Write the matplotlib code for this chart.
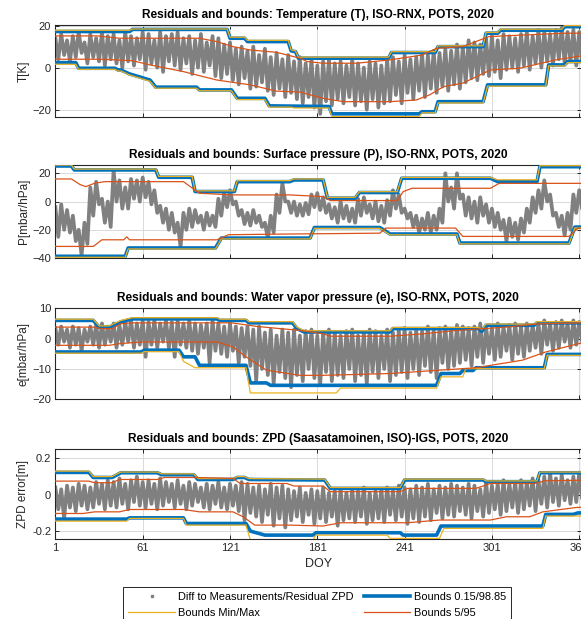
import matplotlib
matplotlib.use("Agg")
import matplotlib.pyplot as plt
from matplotlib.lines import Line2D
import numpy as np

plt.rcParams['font.family'] = ['Liberation Sans', 'DejaVu Sans']

# ---------------- data ----------------
# residual envelope samples: every 4 days, a high and a low reading
res_days = list(range(1, 366, 4))

# Panel 1: Temperature
t_hi = [14, 16, 13, 15, 17, 12, 16, 14, 17, 15,
        16, 13, 17, 15, 14, 17, 16, 13, 17, 15,
        16, 17, 14, 15, 13, 16, 12, 15, 14, 11,
        12, 9, 10, 8, 10, 6, 9, 5, 7, 4,
        6, 3, 5, 2, 4, 1, 3, 4, 2, 3,
        1, 4, 2, 0, 3, 2, 1, 4, 5, 3,
        6, 4, 5, 7, 6, 8, 7, 9, 8, 11,
        10, 13, 12, 11, 14, 15, 13, 16, 15, 14,
        16, 17, 15, 18, 17, 16, 18, 19, 17, 18,
        17, 16]
t_lo = [4, 6, 3, 5, 7, 2, 5, 3, 1, 4,
        2, 0, 3, 1, 4, -1, 2, 0, -2, 3,
        1, -1, 2, -3, 0, -2, 1, -4, -5, -3,
        -6, -8, -5, -10, -9, -7, -11, -13, -10, -14,
        -12, -15, -17, -14, -19, -22, -16, -18, -15, -17,
        -14, -18, -16, -20, -15, -19, -17, -16, -13, -17,
        -12, -15, -11, -14, -10, -12, -9, -11, -8, -10,
        -7, -5, -6, -3, -4, -2, -5, -1, 0, -2,
        1, -1, 2, 0, 3, 1, 4, 2, 3, 1,
        3, 5]
t_blue_up_d = [1, 52, 54, 119, 121, 131, 133, 161, 163, 166, 168, 230, 232, 262, 264, 295, 297, 305, 307, 349, 351, 366]
t_blue_up_v = [17.2, 17.2, 18.2, 18.2, 14, 14, 12.4, 12.4, 8, 7.6, 4.5, 4.5, 7.2, 7.2, 10, 10, 16.4, 16.4, 17.8, 17.8, 19.5, 19.5]
t_yel_up_v = [17.8, 17.8, 18.4, 18.4, 14.5, 14.5, 13, 13, 8.5, 8, 5, 5, 7.6, 7.6, 10.4, 10.4, 16.8, 16.8, 18.3, 18.3, 20, 20]
t_blue_lo_d = [1, 15, 17, 42, 44, 46, 52, 66, 70, 98, 100, 122, 126, 145, 148, 189, 191, 251, 253, 262, 264, 295, 298, 338, 340, 351, 353, 366]
t_blue_lo_v = [2.4, 2.4, -0.3, -0.3, -1.1, -1.1, -3, -5.9, -9.3, -9.3, -10.6, -10.6, -14.6, -14.6, -18.2, -18.5, -22, -22, -21, -21, -16.2, -16.2, -8.2, -8.2, 1.3, 1.3, 2.9, 2.9]
t_yel_lo_d = [1, 15, 17, 42, 44, 46, 52, 66, 70, 98, 100, 122, 126, 145, 148, 163, 165, 189, 191, 251, 253, 262, 264, 295, 298, 338, 340, 351, 353, 366]
t_yel_lo_v = [1.6, 1.6, -0.8, -0.8, -1.6, -1.6, -3.5, -6.5, -9.8, -9.8, -11, -11, -15.2, -15.2, -18.8, -18.8, -19.2, -19.2, -23.3, -23.3, -21.5, -21.5, -16.8, -16.8, -8.8, -8.8, 0.8, 0.8, 2.4, 2.4]
t_or_up_d = [1, 30, 45, 100, 112, 123, 135, 153, 169, 174, 185, 208, 231, 253, 263, 281, 299, 322, 352, 366]
t_or_up_v = [15.1, 15.1, 14, 14, 12.4, 10, 8.4, 7.3, 4.5, 2.9, 2.1, 2.1, 3.7, 6, 9.2, 10, 14.8, 15.5, 16.4, 16.4]
t_or_lo_d = [1, 32, 54, 66, 89, 112, 135, 153, 169, 185, 199, 231, 249, 258, 268, 281, 300, 320, 345, 366]
t_or_lo_v = [4, 4, 3.3, 1.3, -1.9, -5.9, -8.2, -11.2, -11.6, -14.6, -16.2, -16.2, -15.4, -13, -9, -7.4, -1.1, -0.3, 3.7, 6]

# Panel 2: Surface pressure
p_hi = [-4, -2, -6, -10, -20, -15, 10, 14, 2, 0,
        22, 15, 10, 16, 15, 17, 14, 8, -3, -5,
        -8, -15, -8, -5, -6, -10, -8, -10, 2, 6,
        8, 0, -6, -8, -6, -10, -15, -10, 5, 13,
        0, 0, -2, -1, 5, 6, 3, -2, -4, 0,
        -3, -5, 2, 3, -2, 0, -3, 1, 8, 5,
        -5, -8, -10, -12, -8, -10, -5, 20, 10, 20,
        5, 3, 0, 3, -2, -5, -8, -13, -12, -15,
        -12, -5, 3, 8, 15, 5, -8, -10, -8, 5,
        8, 2]
p_lo = [-25, -20, -22, -28, -38, -30, -10, -2, -15, -18,
        0, -5, -5, 2, 0, 3, -2, -8, -15, -20,
        -22, -32, -20, -18, -15, -20, -17, -18, -10, -4,
        -2, -10, -16, -17, -15, -18, -26, -22, -8, 0,
        -8, -10, -10, -9, -4, -6, -8, -12, -15, -12,
        -14, -15, -10, -8, -12, -14, -15, -10, -5, -8,
        -12, -18, -22, -20, -22, -20, -15, 0, -5, 2,
        -10, -12, -15, -10, -15, -18, -20, -28, -25, -27,
        -22, -15, -8, -5, 0, -10, -18, -24, -20, -8,
        -5, -8]
p_up_d = [1, 12, 14, 70, 72, 95, 97, 124, 126, 162, 165, 185, 188, 207, 210, 236, 239, 300, 305, 332, 334, 366]
p_blue_up_v = [25.2, 25.2, 22.4, 22.4, 17.2, 17.2, 7.1, 7.1, 14.1, 14.1, 15.3, 15.3, 2.4, 2.4, 6.4, 6.4, 16.5, 16.5, 14.1, 14.1, 24.7, 24.7]
p_yel_up_v = [25.9, 25.9, 23, 23, 17.8, 17.8, 7.6, 7.6, 14.8, 14.8, 16, 16, 3, 3, 7, 7, 17.1, 17.1, 15.4, 15.4, 25.4, 25.4]
p_lo_d = [1, 49, 51, 111, 115, 176, 179, 224, 231, 277, 279, 354, 358, 366]
p_blue_lo_v = [-38.8, -38.8, -32.9, -32.9, -25.9, -25.9, -18.4, -18.4, -23, -23, -29.4, -29.4, -18.1, -18.1]
p_yel_lo_v = [-39.5, -39.5, -33.6, -33.6, -26.5, -26.5, -19, -19, -23.6, -23.6, -30, -30, -18.7, -18.7]
p_or_up_d = [1, 12, 18, 22, 28, 35, 89, 100, 123, 162, 185, 190, 236, 240, 246, 300, 306, 366]
p_or_up_v = [16, 16, 12, 10.6, 13, 14.1, 14.1, 5.9, 4.7, 4.7, 3.5, 0.7, 0.7, 7, 9.4, 9.4, 12.9, 12.9]
p_or_lo_d = [1, 27, 33, 48, 50, 52, 112, 120, 162, 224, 228, 276, 281, 354, 360, 366]
p_or_lo_v = [-31.8, -31.8, -27.1, -27.1, -25, -27.1, -27.1, -23.5, -23, -22.4, -18.8, -18.8, -24.7, -24.7, -19, -18.5]

# Panel 3: Water vapour pressure
e_hi = [3.5, 4, 3, 4, 3.5, 3, 4, 4.5, 5, 4,
        5, 4.5, 5.5, 6, 5, 6, 5.5, 6, 5, 6,
        5.5, 6, 5, 6, 5, 4.5, 5, 6, 5, 4,
        5, 4, 3.5, 4, 3, 4, 2, 3, 1, 3,
        2, 3, 1, 2.5, 3, 1, 2, 3, 2, 1,
        2.5, 3, 1, 2, 3, 2.5, 1, 3, 2, 3,
        3.5, 2, 3, 2.5, 4, 3, 3.5, 4, 3, 4.5,
        4, 3.5, 4, 5, 4, 3.5, 5, 4, 4.5, 5,
        4, 5, 4.5, 5, 6, 5, 5.5, 6, 5, 6,
        5.5, 5]
e_lo = [-2, -1, -3, -2, -4, -1, -2, -3, -2, -1,
        -3, -2, -1, -3, -2, -6, -2, -3, -1, -3,
        -6, -2, -3, -4, -5, -3, -8, -4, -5, -6,
        -4, -8, -6, -9, -14, -10, -12, -15, -11, -13,
        -16, -12, -14, -10, -13, -15, -11, -14, -12, -13,
        -10, -14, -12, -15, -11, -13, -10, -14, -12, -11,
        -13, -10, -12, -9, -11, -13, -8, -10, -9, -8,
        -7, -9, -6, -8, -5, -7, -6, -4, -7, -5,
        -6, -4, -3, -5, -2, -4, -3, -1, -3, -2,
        -1, -2]
e_up_d = [1, 27, 31, 38, 46, 54, 112, 114, 132, 134, 164, 167, 172, 231, 233, 292, 294, 297, 330, 332, 366]
e_blue_up_v = [6, 6, 3.8, 3.8, 5.5, 6.5, 6.5, 6, 6, 5.2, 5.2, 3.3, 2.2, 2.2, 3.3, 3.3, 2.4, 4.4, 4.4, 5.2, 5.2]
e_yel_up_v = [6.4, 6.4, 4.2, 4.2, 6, 6.9, 6.9, 6.4, 6.4, 5.6, 5.6, 3.8, 2.6, 2.6, 3.7, 3.7, 3, 4.8, 4.8, 5.6, 5.6]
e_blue_lo_d = [1, 60, 62, 86, 89, 97, 100, 132, 135, 146, 149, 263, 266, 279, 281, 288, 290, 337, 339, 366]
e_blue_lo_v = [-4.4, -4.4, -3.8, -3.8, -6, -6, -8.8, -8.8, -14.6, -14.6, -15.4, -15.4, -11.5, -11.5, -10.5, -10.5, -9.6, -9.6, -5.2, -5.2]
e_yel_lo_d = [1, 60, 62, 86, 89, 97, 132, 135, 194, 197, 263, 266, 281, 283, 337, 339, 366]
e_yel_lo_v = [-4.8, -4.8, -4.3, -4.3, -7.5, -9.6, -9.6, -17.9, -17.9, -16.3, -16.3, -12.6, -12.6, -9.9, -9.9, -5.5, -5.5]
e_or_up_d = [1, 27, 33, 40, 46, 54, 122, 140, 169, 185, 190, 231, 254, 277, 311, 334, 366]
e_or_up_v = [3.8, 3.8, 3.3, 3.3, 4.9, 5.2, 5.2, 4, 2.7, 1.6, 0.8, 0.8, 1.6, 2.7, 3.8, 4.9, 5.2]
e_or_lo_d = [1, 38, 46, 61, 112, 123, 132, 146, 169, 185, 231, 265, 290, 322, 338, 361, 366]
e_or_lo_v = [-2.2, -2.2, -1.6, -1.1, -1.1, -2.7, -6, -10.4, -12.1, -12.1, -11.5, -10.4, -9.6, -7.1, -4.4, -1.6, -1.6]

# Panel 4: ZPD
z_hi = [0.04, 0.03, 0.05, 0.04, 0.06, 0.05, 0.04, 0.07, 0.06, 0.08,
        0.07, 0.09, 0.06, 0.08, 0.1, 0.07, 0.08, 0.06, 0.09, 0.07,
        0.06, 0.08, 0.05, 0.07, 0.06, 0.04, 0.06, 0.05, 0.07, 0.04,
        0.06, 0.05, 0.07, 0.06, 0.04, 0.05, 0.03, 0.06, 0.04, 0.05,
        0.03, 0.02, 0.04, 0.01, 0.03, 0.02, 0.04, 0.01, 0.02, 0.03,
        0.01, 0.03, 0.02, 0.04, 0.01, 0.02, 0.03, 0.04, 0.02, 0.05,
        0.04, 0.03, 0.05, 0.04, 0.06, 0.03, 0.05, 0.04, 0.06, 0.05,
        0.04, 0.06, 0.05, 0.03, 0.07, 0.05, 0.06, 0.08, 0.06, 0.07,
        0.08, 0.07, 0.09, 0.08, 0.1, 0.12, 0.09, 0.11, 0.08, 0.1,
        0.12, 0.1]
z_lo = [-0.08, -0.13, -0.07, -0.09, -0.06, -0.08, -0.07, -0.05, -0.08, -0.06,
        -0.07, -0.05, -0.08, -0.04, -0.06, -0.07, -0.05, -0.08, -0.06, -0.04,
        -0.07, -0.05, -0.08, -0.06, -0.04, -0.07, -0.08, -0.05, -0.07, -0.08,
        -0.06, -0.09, -0.14, -0.1, -0.12, -0.15, -0.11, -0.17, -0.13, -0.18,
        -0.14, -0.12, -0.15, -0.11, -0.16, -0.13, -0.15, -0.12, -0.17, -0.14,
        -0.13, -0.15, -0.12, -0.16, -0.14, -0.13, -0.15, -0.11, -0.14, -0.12,
        -0.16, -0.13, -0.15, -0.12, -0.14, -0.1, -0.13, -0.11, -0.12, -0.09,
        -0.11, -0.13, -0.09, -0.12, -0.1, -0.08, -0.11, -0.09, -0.07, -0.1,
        -0.08, -0.06, -0.09, -0.05, -0.07, -0.04, -0.06, -0.03, -0.05, -0.04,
        -0.02, -0.04]
z_up_d = [1, 24, 27, 40, 43, 46, 71, 74, 96, 99, 123, 126, 131, 134, 186, 190, 238, 241, 295, 297, 332, 334, 366]
z_blue_up_v = [0.123, 0.123, 0.095, 0.095, 0.108, 0.121, 0.121, 0.11, 0.11, 0.084, 0.084, 0.095, 0.095, 0.084, 0.081, 0.035, 0.035, 0.081, 0.081, 0.072, 0.072, 0.121, 0.121]
z_yel_up_v = [0.13, 0.13, 0.1, 0.1, 0.113, 0.125, 0.125, 0.115, 0.115, 0.089, 0.089, 0.1, 0.1, 0.089, 0.086, 0.04, 0.04, 0.086, 0.086, 0.076, 0.076, 0.125, 0.125]
z_blue_lo_d = [1, 50, 52, 89, 91, 132, 135, 145, 178, 180, 238, 240, 263, 266, 336, 338, 357, 360, 366]
z_blue_lo_v = [-0.134, -0.134, -0.127, -0.127, -0.158, -0.158, -0.2, -0.222, -0.222, -0.209, -0.209, -0.222, -0.222, -0.172, -0.172, -0.108, -0.108, -0.1, -0.1]
z_yel_lo_d = [1, 50, 52, 89, 91, 132, 135, 178, 180, 229, 231, 265, 268, 336, 338, 366]
z_yel_lo_v = [-0.145, -0.145, -0.13, -0.13, -0.167, -0.167, -0.25, -0.25, -0.222, -0.222, -0.24, -0.24, -0.185, -0.185, -0.117, -0.117]
z_or_up_d = [1, 24, 28, 40, 45, 71, 76, 96, 123, 128, 160, 165, 185, 190, 238, 243, 290, 300, 330, 338, 366]
z_or_up_v = [0.075, 0.075, 0.066, 0.066, 0.084, 0.084, 0.095, 0.095, 0.09, 0.062, 0.062, 0.048, 0.048, 0.017, 0.017, 0.035, 0.035, 0.062, 0.062, 0.077, 0.08]
z_or_lo_d = [1, 20, 28, 45, 52, 89, 100, 123, 130, 138, 162, 185, 197, 243, 265, 300, 311, 327, 336, 359, 366]
z_or_lo_v = [-0.103, -0.103, -0.094, -0.094, -0.081, -0.081, -0.094, -0.094, -0.121, -0.167, -0.167, -0.172, -0.154, -0.154, -0.139, -0.139, -0.121, -0.121, -0.094, -0.07, -0.068]

titles = ["Residuals and bounds: Temperature (T), ISO-RNX, POTS, 2020",
          "Residuals and bounds: Surface pressure (P), ISO-RNX, POTS, 2020",
          "Residuals and bounds: Water vapor pressure (e), ISO-RNX, POTS, 2020",
          "Residuals and bounds: ZPD (Saasatamoinen, ISO)-IGS, POTS, 2020"]
ylabels = ["T[K]", "P[mbar/hPa]", "e[mbar/hPa]", "ZPD error[m]"]
xticks = [1, 61, 121, 181, 241, 301, 361]
legend_labels = ["Diff to Measurements/Residual ZPD", "Bounds 0.15/98.85",
                 "Bounds Min/Max", "Bounds 5/95"]

# ---------------- style ----------------
C_GRAY = (0.5, 0.5, 0.5)
C_BLUE = "#0072BD"
C_YEL = "#EDB120"
C_OR = "#D95319"
AX_C = (0.15, 0.15, 0.15)

panels = [
    dict(hi=t_hi, lo=t_lo, bu=(t_blue_up_d, t_blue_up_v), yu=(t_blue_up_d, t_yel_up_v),
         bl=(t_blue_lo_d, t_blue_lo_v), yl=(t_yel_lo_d, t_yel_lo_v),
         ou=(t_or_up_d, t_or_up_v), ol=(t_or_lo_d, t_or_lo_v),
         ylim=(-23.5, 20.3), yt=[-20, 0, 20], rect=(117, 25)),
    dict(hi=p_hi, lo=p_lo, bu=(p_up_d, p_blue_up_v), yu=(p_up_d, p_yel_up_v),
         bl=(p_lo_d, p_blue_lo_v), yl=(p_lo_d, p_yel_lo_v),
         ou=(p_or_up_d, p_or_up_v), ol=(p_or_lo_d, p_or_lo_v),
         ylim=(-40, 25.9), yt=[-40, -20, 0, 20], rect=(258, 165)),
    dict(hi=e_hi, lo=e_lo, bu=(e_up_d, e_blue_up_v), yu=(e_up_d, e_yel_up_v),
         bl=(e_blue_lo_d, e_blue_lo_v), yl=(e_yel_lo_d, e_yel_lo_v),
         ou=(e_or_up_d, e_or_up_v), ol=(e_or_lo_d, e_or_lo_v),
         ylim=(-20, 10), yt=[-20, -10, 0, 10], rect=(399.3, 308.3)),
    dict(hi=z_hi, lo=z_lo, bu=(z_up_d, z_blue_up_v), yu=(z_up_d, z_yel_up_v),
         bl=(z_blue_lo_d, z_blue_lo_v), yl=(z_yel_lo_d, z_yel_lo_v),
         ou=(z_or_up_d, z_or_up_v), ol=(z_or_lo_d, z_or_lo_v),
         ylim=(-0.245, 0.25), yt=[-0.2, 0, 0.2], rect=(539.3, 449.3)),
]

W, H = 581, 619
fig = plt.figure(figsize=(W / 100, H / 100), dpi=100)
left_px = 55.4
px_per_day = 1.455
x_right = 1 + (W - left_px) / px_per_day

for i, p in enumerate(panels):
    bot, top = p["rect"]
    ax = fig.add_axes([left_px / W, 1 - bot / H, (W - left_px) / W, (bot - top) / H])
    # residual trace: high reading at each sample day, low reading two days later
    rx, ry = [], []
    for d, h, l in zip(res_days, p["hi"], p["lo"]):
        rx += [d, d + 2]
        ry += [h, l]
    ax.plot(rx, ry, color=C_GRAY, lw=2.7, zorder=2)
    ax.plot(*p["bu"], color=C_BLUE, lw=2.6, zorder=3)
    ax.plot(*p["bl"], color=C_BLUE, lw=2.6, zorder=3)
    ax.plot(*p["yu"], color=C_YEL, lw=0.9, zorder=4)
    ax.plot(*p["yl"], color=C_YEL, lw=0.9, zorder=4)
    ax.plot(*p["ou"], color=C_OR, lw=0.9, zorder=5)
    ax.plot(*p["ol"], color=C_OR, lw=0.9, zorder=5)
    ax.set_xlim(1, x_right)
    ax.set_ylim(*p["ylim"])
    ax.set_xticks(xticks)
    ax.set_yticks(p["yt"])
    if i == 3:
        ax.set_yticklabels(["-0.2", "0", "0.2"])
    ax.grid(True, color=(0.85, 0.85, 0.85), lw=0.7, zorder=0)
    ax.set_axisbelow(True)
    ax.tick_params(direction='in', top=True, right=True, length=3, width=0.7,
                   colors=AX_C, labelsize=8, pad=3)
    for s in ax.spines.values():
        s.set_color(AX_C)
        s.set_linewidth(0.8)
    if i < 3:
        ax.set_xticklabels([])
    else:
        ax.set_xlabel("DOY", fontsize=9, color=AX_C, labelpad=3)
    ax.set_ylabel(ylabels[i], fontsize=8.5, color=AX_C, labelpad=2)
    ax.set_title(titles[i], fontsize=8.6, fontweight='bold', color='black', pad=5)

handles = [
    Line2D([], [], color=C_GRAY, marker='s', markersize=2, linestyle='None'),
    Line2D([], [], color=C_YEL, lw=0.9),
    Line2D([], [], color=C_BLUE, lw=2.6),
    Line2D([], [], color=C_OR, lw=0.9),
]
labels = [legend_labels[0], legend_labels[2], legend_labels[1], legend_labels[3]]
leg = fig.legend(handles, labels, ncol=2, loc='upper left',
                 bbox_to_anchor=(123 / W, 1 - 586.7 / H), fontsize=7.9,
                 frameon=True, fancybox=False, edgecolor=AX_C, framealpha=1,
                 handlelength=4.2, handletextpad=0.35, columnspacing=0.9,
                 borderpad=0.5, labelspacing=0.5, borderaxespad=0)
leg.get_frame().set_linewidth(0.7)

fig.savefig("out.png", dpi=100)
